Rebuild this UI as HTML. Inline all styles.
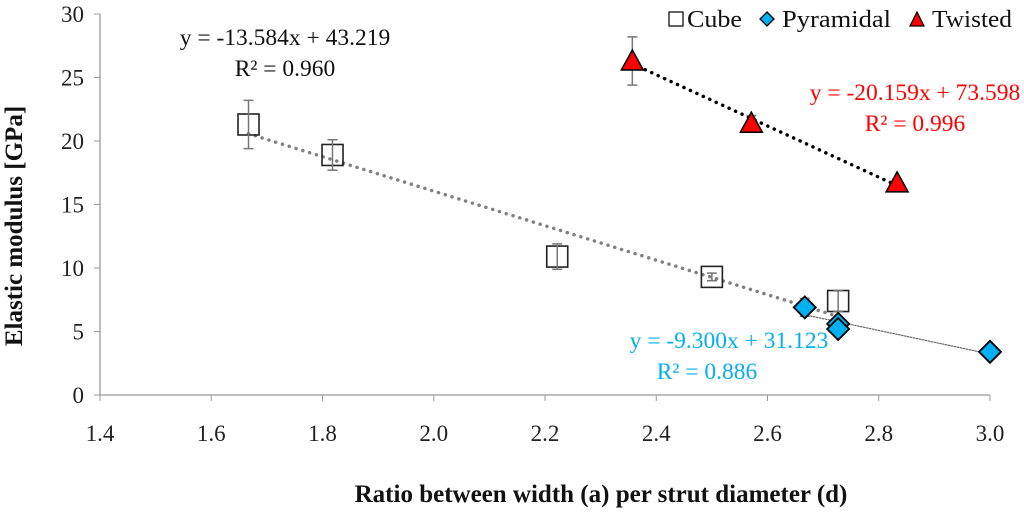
<!DOCTYPE html>
<html><head><meta charset="utf-8"><style>
body{margin:0;background:#fff;}
svg text{font-family:"Liberation Serif",serif;}
</style></head><body>
<svg id="c" width="1024" height="512" xmlns="http://www.w3.org/2000/svg"></svg>
<script>
const xTicks=[1.4,1.6,1.8,2.0,2.2,2.4,2.6,2.8,3.0];
const yTicks=[0,5,10,15,20,25,30];
const cubeX=[1.667,1.818,2.222,2.5,2.727];
const cubeY=[21.3,18.9,10.9,9.3,7.4];
const cubeErr=[1.9,1.2,1.0,0.3,0.8];
const pyrX=[2.667,2.727,2.727,3.0];
const pyrY=[6.9,5.6,5.2,3.4];
const pyrErr=[0.7,0.3,0.3,0.2];
const twX=[2.357,2.571,2.833];
const twY=[26.3,21.4,16.7];
const twErr=[1.9,0.6,0.3];
const cubeFit=[-13.584,43.219];
const pyrFit=[-9.300,31.123];
const twFit=[-20.159,73.598];

const svg=document.getElementById('c');
const NS='http://www.w3.org/2000/svg';
const X=v=>100+(v-1.4)*(890/1.6);
const Y=v=>395-v*(381/30);
function mk(tag,attrs,parent){const e=document.createElementNS(NS,tag);for(const k in attrs)e.setAttribute(k,attrs[k]);(parent||svg).appendChild(e);return e;}

let g=mk('g',{});


mk('line',{x1:100,y1:Y(30),x2:100,y2:Y(0),stroke:'#999','stroke-width':1.3},g);
yTicks.forEach(t=>{mk('line',{x1:94,y1:Y(t),x2:100,y2:Y(t),stroke:'#999'},g);
 const tx=mk('text',{x:84,y:Y(t)+8,'text-anchor':'end','font-size':23,fill:'#222'},g);tx.textContent=t;
 
 });
g=mk('g',{});


mk('line',{x1:100,y1:Y(0),x2:X(3.0),y2:Y(0),stroke:'#999','stroke-width':1.3},g);
xTicks.forEach(t=>{mk('line',{x1:X(t),y1:Y(0),x2:X(t),y2:Y(0)+6,stroke:'#999'},g);
 const tx=mk('text',{x:X(t),y:441,'text-anchor':'middle','font-size':23,fill:'#222'},g);tx.textContent=t.toFixed(1);
 
 });
let t=mk('text',{x:601,y:502,'text-anchor':'middle','font-size':25,'font-weight':'bold',fill:'#111'});
t.textContent='Ratio between width (a) per strut diameter (d)';


t=mk('text',{x:0,y:0,'text-anchor':'middle','font-size':25,'font-weight':'bold',fill:'#111',transform:'translate(22,226) rotate(-90)'});
t.textContent='Elastic modulus [GPa]';



function trend(fit,xs,col,w,dash,name){const a=Math.min(...xs),b=Math.max(...xs);
 const l=mk('line',{x1:X(a),y1:Y(fit[0]*a+fit[1]),x2:X(b),y2:Y(fit[0]*b+fit[1]),stroke:col,'stroke-width':w,'stroke-dasharray':dash,'stroke-linecap':'round'});
 
 }
trend(cubeFit,cubeX,'#808080',3.5,'0.1 7','cube-trendline');
trend(pyrFit,pyrX,'#666',1.2,'1.5 1.5','pyramidal-trendline');
trend(twFit,twX,'#000',3.5,'0.1 7','twisted-trendline');

function err(xs,ys,es,name){xs.forEach((x,i)=>{const gg=mk('g',{});
 
 
 const cx=X(x),y1=Y(ys[i]+es[i]),y2=Y(ys[i]-es[i]);
 mk('line',{x1:cx,y1:y1,x2:cx,y2:y2,stroke:'#777','stroke-width':1.5},gg);
 mk('line',{x1:cx-5,y1:y1,x2:cx+5,y2:y1,stroke:'#777','stroke-width':1.5},gg);
 mk('line',{x1:cx-5,y1:y2,x2:cx+5,y2:y2,stroke:'#777','stroke-width':1.5},gg);});}

cubeX.forEach((x,i)=>{const r=mk('rect',{x:X(x)-10.5,y:Y(cubeY[i])-10.5,width:21,height:21,fill:'none',stroke:'#222','stroke-width':1.6});
 
 });
err(cubeX,cubeY,cubeErr,'cube-error-bar');
err(pyrX,pyrY,pyrErr,'pyramidal-error-bar');
pyrX.forEach((x,i)=>{const cx=X(x),cy=Y(pyrY[i]);
 const p=mk('polygon',{points:`${cx},${cy-11} ${cx+11},${cy} ${cx},${cy+11} ${cx-11},${cy}`,fill:'#00b0f0',stroke:'#000','stroke-width':1.8});
 
 });
err(twX,twY,twErr,'twisted-error-bar');
twX.forEach((x,i)=>{const cx=X(x),cy=Y(twY[i]);
 const p=mk('polygon',{points:`${cx},${cy-11} ${cx+11},${cy+9} ${cx-11},${cy+9}`,fill:'#ff0000',stroke:'#000','stroke-width':1.5});
 
 });

function lab(x,y,s,col,name){const e=mk('text',{x:x,y:y,'text-anchor':'middle','font-size':23.5,fill:col});e.textContent=s;
 
 }
lab(285,45,'y = -13.584x + 43.219','#111','cube-equation');
lab(285,76,'R² = 0.960','#111','cube-r2');
lab(915,100,'y = -20.159x + 73.598','#ff0000','twisted-equation');
lab(915,131,'R² = 0.996','#ff0000','twisted-r2');
lab(729,348,'y = -9.300x + 31.123','#00b0f0','pyramidal-equation');
lab(707,379,'R² = 0.886','#00b0f0','pyramidal-r2');

const lg=mk('g',{});


mk('rect',{x:669,y:12,width:14,height:14,fill:'none',stroke:'#222','stroke-width':1.4},lg);
let e=mk('text',{x:687,y:27,'font-size':24,fill:'#111','textLength':55,'lengthAdjust':'spacingAndGlyphs'},lg);e.textContent='Cube';


mk('polygon',{points:'767,12 774,19 767,26 760,19',fill:'#00b0f0',stroke:'#000','stroke-width':1.3},lg);
e=mk('text',{x:782,y:27,'font-size':24,fill:'#111','textLength':109,'lengthAdjust':'spacingAndGlyphs'},lg);e.textContent='Pyramidal';


mk('polygon',{points:'917,12 924,26 910,26',fill:'#ff0000',stroke:'#000','stroke-width':1.2},lg);
e=mk('text',{x:932,y:27,'font-size':24,fill:'#111','textLength':80,'lengthAdjust':'spacingAndGlyphs'},lg);e.textContent='Twisted';


</script>
</body></html>
